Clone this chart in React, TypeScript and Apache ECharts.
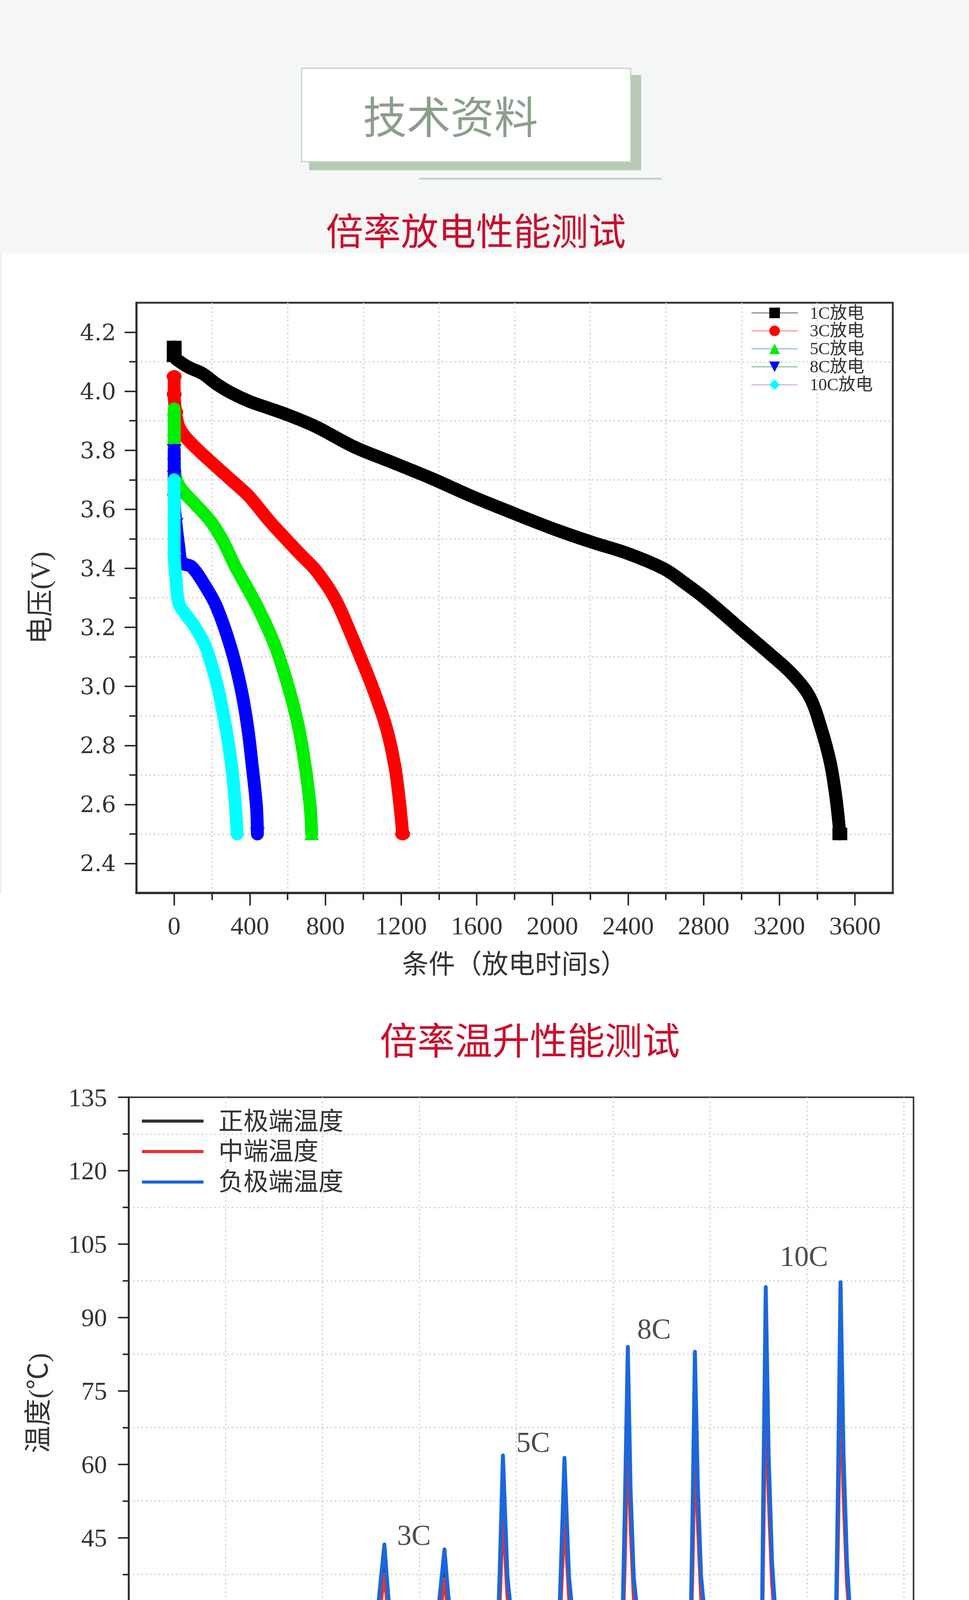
import React, { useEffect, useRef } from "react";
import * as echarts from "echarts";

// ---------- texts ----------
const headerTitle = "技术资料";
const sectionTitles = ["倍率放电性能测试", "倍率温升性能测试", "低温性能测试"];

// ---------- chart 1 : rate discharge ----------
const dischargeNames = ["1C放电", "3C放电", "5C放电", "8C放电", "10C放电"];
const curve1C: [number, number][] = [
  [0, 4.15], [0, 4.12], [30, 4.1], [80, 4.08], [150, 4.06], [223, 4.025], [300, 3.995], [400, 3.965],
  [490, 3.945], [600, 3.92], [750, 3.88], [950, 3.812], [1150, 3.76], [1360, 3.705], [1570, 3.645],
  [1781, 3.59], [2000, 3.535], [2202, 3.49], [2400, 3.45], [2591, 3.398], [2700, 3.35], [2800, 3.302],
  [2900, 3.248], [3000, 3.192], [3150, 3.11], [3270, 3.04], [3360, 2.965], [3420, 2.86], [3470, 2.74],
  [3500, 2.62], [3520, 2.5],
];
const curve3C: [number, number][] = [
  [0, 4.05], [0, 3.99], [8, 3.93], [25, 3.88], [60, 3.845], [120, 3.805], [196, 3.76], [300, 3.7],
  [394, 3.645], [504, 3.56], [590, 3.5], [671, 3.445], [740, 3.4], [788, 3.36], [830, 3.32],
  [872, 3.27], [962, 3.135], [1047, 3.0], [1120, 2.864], [1167, 2.729], [1194, 2.594], [1208, 2.5],
];
const curve5C: [number, number][] = [
  [0, 3.94], [0, 3.87], [0, 3.79], [5, 3.72], [30, 3.675], [100, 3.625], [192, 3.56], [260, 3.49],
  [324, 3.405], [440, 3.27], [535, 3.135], [603, 3.0], [657, 2.864], [693, 2.729], [719, 2.594], [727, 2.5],
];
const curve8C: [number, number][] = [
  [0, 3.8], [0, 3.71], [0, 3.63], [10, 3.55], [25, 3.47], [40, 3.42], [93, 3.405], [166, 3.338],
  [224, 3.27], [298, 3.135], [351, 3.0], [388, 2.864], [413, 2.729], [435, 2.594], [440, 2.5],
];
const curve10C: [number, number][] = [
  [0, 3.7], [0, 3.57], [0, 3.45], [10, 3.36], [25, 3.28], [61, 3.244], [108, 3.203], [166, 3.135],
  [229, 3.0], [272, 2.864], [304, 2.729], [324, 2.594], [333, 2.5],
];
const dischargeCurves = [curve1C, curve3C, curve5C, curve8C, curve10C];
const dischargeColors = ["#000000", "#ff0000", "#00ee00", "#0000ff", "#00ffff"];
const dischargeLegendLineColors = ["#8c8c8c", "#ff9a9a", "#9fb8ec", "#98c49a", "#d6b2ec"];
const dischargeSymbols = ["rect", "circle", "triangle", "triangle", "diamond"];
const dischargeSymbolRotate = [0, 0, 0, 180, 0];
const dischargeXTicks = [0, 400, 800, 1200, 1600, 2000, 2400, 2800, 3200, 3600];
const dischargeXMinor = [200, 600, 1000, 1400, 1800, 2200, 2600, 3000, 3400];
const dischargeYTicks = [2.4, 2.6, 2.8, 3.0, 3.2, 3.4, 3.6, 3.8, 4.0, 4.2];
const dischargeYMinor = [2.5, 2.7, 2.9, 3.1, 3.3, 3.5, 3.7, 3.9, 4.1];

// ---------- chart 2 : rate temperature rise ----------
const tempNames = ["正极端温度", "中端温度", "负极端温度"];
const tempColors = ["#333333", "#e8312f", "#1b67dc"];
const tempPositive: [number, number][] = [
  [0, 19.4], [700, 20.8], [1400, 22.0], [2000, 22.7], [2600, 23.2], [3000, 23.0], [3500, 21.3], [4000, 19.7],
  [5000, 20.0], [6200, 20.3], [7000, 20.4], [7400, 25.0], [7900, 22.5], [8500, 22.1], [9100, 22.3], [9700, 22.6],
  [10100, 21.9], [10800, 22.7], [11300, 21.4], [12000, 18.8], [13500, 19.6], [14800, 20.9], [15500, 24.3],
  [16100, 21.9], [17400, 21.7], [18700, 22.0], [19300, 19.8], [20000, 17.3], [20700, 28.5], [21400, 40.0],
  [21800, 31.5], [22200, 26.2], [22700, 23.1], [23300, 21.9], [24400, 21.5], [25100, 21.9], [25700, 19.3],
  [26300, 17.0], [26900, 27.5], [27600, 39.5], [28000, 31.5], [28400, 26.2], [28900, 23.1], [29500, 21.9],
  [30800, 21.5], [31500, 21.7], [32200, 18.9], [32940, 16.4], [33300, 35.0], [33630, 56.0], [34100, 35.0],
  [34620, 25.8], [35000, 23.0], [35400, 21.6], [37000, 21.1], [37460, 21.6], [38300, 18.4], [39250, 15.9],
  [39600, 35.0], [39980, 55.5], [40450, 35.0], [40950, 25.8], [41350, 23.0], [41750, 21.6], [43300, 20.9],
  [43900, 21.3], [44900, 18.1], [45840, 15.5], [46200, 45.0], [46520, 76.0], [46800, 51.0], [47130, 35.0],
  [47600, 26.5], [48100, 22.8], [48790, 20.9], [50300, 20.7], [50850, 21.1], [51900, 17.9], [52910, 15.4],
  [53200, 45.0], [53440, 75.0], [53750, 51.0], [54080, 35.0], [54550, 26.5], [55000, 22.8], [55500, 20.7],
  [57000, 20.3], [57690, 20.8], [59000, 17.4], [60300, 14.9], [60500, 50.0], [60750, 87.0], [61050, 58.0],
  [61400, 38.0], [61800, 27.0], [62300, 22.5], [62800, 20.4], [64100, 19.9], [64720, 20.4], [66300, 17.4],
  [67900, 15.1], [68200, 50.0], [68470, 88.0], [68780, 58.0], [69130, 38.0], [69500, 27.0], [70000, 22.5],
  [70400, 20.8], [71800, 20.4], [73400, 21.2], [74600, 17.9], [76000, 17.2],
];
const tempMiddle: [number, number][] = [
  [0, 19.3], [700, 20.6], [1400, 21.8], [2000, 22.5], [2600, 22.9], [3000, 22.8], [3500, 21.1], [4000, 19.6],
  [5000, 19.8], [6200, 20.0], [7000, 20.1], [7400, 24.2], [7900, 22.2], [8500, 21.8], [9100, 22.0], [9700, 22.3],
  [10100, 21.6], [10800, 22.4], [11300, 21.2], [12000, 18.7], [13500, 19.4], [14800, 20.6], [15500, 23.6],
  [16100, 21.6], [17400, 21.4], [18700, 21.7], [19300, 19.7], [20000, 17.3], [20700, 27.0], [21400, 37.5],
  [21800, 30.0], [22200, 25.5], [22700, 22.7], [23300, 21.6], [24400, 21.2], [25100, 21.6], [25700, 19.2],
  [26300, 17.0], [26900, 26.0], [27600, 36.5], [28000, 30.0], [28400, 25.5], [28900, 22.7], [29500, 21.6],
  [30800, 21.2], [31500, 21.4], [32200, 18.8], [32940, 16.4], [33300, 32.0], [33630, 51.0], [34100, 33.0],
  [34620, 24.8], [35000, 22.6], [35400, 21.3], [37000, 20.8], [37460, 21.3], [38300, 18.3], [39250, 15.9],
  [39600, 32.0], [39980, 50.0], [40450, 33.0], [40950, 24.8], [41350, 22.6], [41750, 21.3], [43300, 20.6],
  [43900, 21.0], [44900, 18.0], [45840, 15.5], [46200, 40.0], [46520, 68.0], [46800, 48.0], [47130, 33.0],
  [47600, 25.5], [48100, 22.4], [48790, 20.6], [50300, 20.4], [50850, 20.8], [51900, 17.8], [52910, 15.4],
  [53200, 40.0], [53440, 67.0], [53750, 48.0], [54080, 33.0], [54550, 25.5], [55000, 22.4], [55500, 20.4],
  [57000, 20.0], [57690, 20.5], [59000, 17.3], [60300, 14.9], [60500, 45.0], [60750, 78.0], [61050, 54.0],
  [61400, 36.0], [61800, 26.0], [62300, 22.0], [62800, 20.1], [64100, 19.6], [64720, 20.1], [66300, 17.3],
  [67900, 15.1], [68200, 45.0], [68470, 79.0], [68780, 54.0], [69130, 36.0], [69500, 26.0], [70000, 22.0],
  [70400, 20.5], [71800, 20.1], [73400, 20.9], [74600, 17.8], [76000, 17.1],
];
const tempNegative: [number, number][] = [
  [0, 19.5], [700, 21.0], [1400, 22.3], [2000, 23.0], [2600, 23.5], [3000, 23.3], [3500, 21.5], [4000, 19.9],
  [5000, 20.2], [6200, 20.5], [7000, 20.6], [7400, 26.0], [7900, 22.9], [8500, 22.4], [9100, 22.6], [9700, 22.9],
  [10100, 22.2], [10800, 23.0], [11300, 21.7], [12000, 18.9], [13500, 19.8], [14800, 21.1], [15500, 25.1],
  [16100, 22.2], [17400, 22.0], [18700, 22.3], [19300, 20.0], [20000, 17.4], [20700, 30.0], [21400, 43.6],
  [21800, 33.0], [22200, 27.0], [22700, 23.5], [23300, 22.2], [24400, 21.8], [25100, 22.2], [25700, 19.5],
  [26300, 17.1], [26900, 29.0], [27600, 42.6], [28000, 33.0], [28400, 27.0], [28900, 23.5], [29500, 22.2],
  [30800, 21.8], [31500, 22.0], [32200, 19.0], [32940, 16.5], [33300, 38.0], [33630, 61.8], [34100, 37.0],
  [34620, 26.8], [35000, 23.5], [35400, 22.0], [37000, 21.4], [37460, 21.9], [38300, 18.5], [39250, 16.0],
  [39600, 38.0], [39980, 61.3], [40450, 37.0], [40950, 26.8], [41350, 23.5], [41750, 22.0], [43300, 21.2],
  [43900, 21.6], [44900, 18.2], [45840, 15.6], [46200, 50.0], [46520, 84.0], [46800, 55.0], [47130, 37.0],
  [47600, 27.5], [48100, 23.3], [48790, 21.2], [50300, 21.0], [50850, 21.4], [51900, 18.0], [52910, 15.5],
  [53200, 50.0], [53440, 83.0], [53750, 55.0], [54080, 37.0], [54550, 27.5], [55000, 23.3], [55500, 21.0],
  [57000, 20.7], [57690, 21.2], [59000, 17.5], [60300, 15.0], [60500, 55.0], [60750, 96.2], [61050, 62.0],
  [61400, 40.0], [61800, 28.0], [62300, 23.0], [62800, 20.8], [64100, 20.3], [64720, 20.8], [66300, 17.5],
  [67900, 15.2], [68200, 55.0], [68470, 97.2], [68780, 62.0], [69130, 40.0], [69500, 28.0], [70000, 23.0],
  [70400, 21.2], [71800, 20.8], [73400, 21.6], [74600, 18.0], [76000, 17.3],
];
const tempSeries = [tempPositive, tempMiddle, tempNegative];
const rateLabelNames = ["1C", "3C", "5C", "8C", "10C"];
const rateLabelTimes = [6000, 24450, 36750, 49230, 64700];
const rateLabelTemps = [30.3, 45.5, 64.5, 87.7, 102.5];
const tempXTicks = [0, 10000, 20000, 30000, 40000, 50000, 60000, 70000];
const tempXMinor = [5000, 15000, 25000, 35000, 45000, 55000, 65000, 75000];
const tempYTicks = [15, 30, 45, 60, 75, 90, 105, 120, 135];
const tempYMinor = [22.5, 37.5, 52.5, 67.5, 82.5, 97.5, 112.5, 127.5];

// ---------- chart 3 : low temperature (only its top edge is on the page) ----------
const lowTempNames = ["25℃"];
const lowTempYTicks = [4.4];
const lowTempXGrid = [200, 400, 600, 800, 1000, 1200, 1400, 1600, 1800, 2000];

const INK = "#2e2e2e";
const SERIF = "Liberation Serif, Noto Sans CJK SC";
const CJK = "Noto Sans CJK SC";

const tickLine = { color: INK, width: 4 };
const dotted = { show: true, lineStyle: { color: "#cfcfcf", width: 3, type: [4, 7] as any } };
const numFmt = (v: number) => String(v);

function mainX(grid: number, min: number, max: number, ticks: number[], len: number, margin: number, name: string, gap: number) {
  return {
    gridIndex: grid, type: "value", min, max, position: "bottom",
    axisLine: { show: true, onZero: false, lineStyle: { color: INK, width: 6 } },
    axisTick: { show: true, customValues: ticks, length: len, lineStyle: tickLine },
    axisLabel: { show: true, customValues: ticks, margin, formatter: numFmt, fontFamily: SERIF, fontSize: 66, color: "#333" },
    splitLine: { show: false },
    name, nameLocation: "middle", nameGap: gap,
    nameTextStyle: { fontFamily: CJK, fontSize: 68, color: "#333" },
  };
}
function minorX(grid: number, min: number, max: number, ticks: number[], len: number, showTick = true) {
  return {
    gridIndex: grid, type: "value", min, max, position: "bottom",
    axisLine: { show: false, onZero: false },
    axisTick: { show: showTick, customValues: ticks, length: len, lineStyle: tickLine },
    axisLabel: { show: false },
    splitLine: dotted,
  };
}
function mainY(grid: number, min: number, max: number, ticks: number[], len: number, margin: number, fmt: any, font: string, fsize: number, name: string, gap: number) {
  return {
    gridIndex: grid, type: "value", min, max, position: "left",
    axisLine: { show: true, onZero: false, lineStyle: { color: INK, width: 5 } },
    axisTick: { show: true, customValues: ticks, length: len, lineStyle: tickLine },
    axisLabel: { show: true, customValues: ticks, margin, formatter: fmt, fontFamily: font, fontSize: fsize, color: "#333" },
    splitLine: { show: false },
    name, nameLocation: "middle", nameGap: gap, nameRotate: 90,
    nameTextStyle: { fontFamily: SERIF, fontSize: 70, color: "#333" },
  };
}
function minorY(grid: number, min: number, max: number, ticks: number[], len: number) {
  return {
    gridIndex: grid, type: "value", min, max, position: "left",
    axisLine: { show: false, onZero: false },
    axisTick: { show: true, customValues: ticks, length: len, lineStyle: tickLine },
    axisLabel: { show: false },
    splitLine: dotted,
  };
}

function buildOption() {
  const dischargeSeries = dischargeCurves.map((d, i) => ({
    type: "line", name: dischargeNames[i], xAxisIndex: 0, yAxisIndex: 0,
    // markers are shown where the original stacks them: the vertical start and the cut-off point
    data: d.map((p, k) => ({
      value: p,
      symbol: p[0] <= 10 || k === d.length - 1 ? dischargeSymbols[i] : "none",
    })),
    smooth: 0.35,
    symbol: dischargeSymbols[i], symbolRotate: dischargeSymbolRotate[i], symbolSize: [38, 32],
    showSymbol: true, showAllSymbol: true, silent: true, z: 2 + i,
    itemStyle: { color: dischargeColors[i] },
    lineStyle: { color: dischargeColors[i], width: 33, cap: "round", join: "round" },
  }));
  const tempLines = tempSeries.map((d, i) => ({
    type: "line", name: tempNames[i], xAxisIndex: 2, yAxisIndex: 2, data: d,
    showSymbol: false, symbol: "none", silent: true, z: 2 + i,
    itemStyle: { color: tempColors[i] },
    lineStyle: { color: tempColors[i], width: 10, join: "round" },
  }));
  const rateLabels = {
    type: "scatter", name: "rateLabels", xAxisIndex: 2, yAxisIndex: 2, symbolSize: 0, silent: true, z: 10,
    data: rateLabelNames.map((n, i) => ({ name: n, value: [rateLabelTimes[i], rateLabelTemps[i]] })),
    label: { show: true, position: "inside", formatter: (p: any) => p.name, fontFamily: "Liberation Serif", fontSize: 74, color: "#222" },
  };
  const lowTemp = {
    type: "line", name: lowTempNames[0], xAxisIndex: 4, yAxisIndex: 4, data: [] as number[][],
    symbol: "rect", symbolSize: 30, itemStyle: { color: "#000" }, lineStyle: { color: "#000", width: 6 },
  };

  const graphic: any[] = [
    { type: "rect", silent: true, z: -10, shape: { x: 0, y: 0, width: 2480, height: 648 }, style: { fill: "#f5f7f6" } },
    { type: "rect", silent: true, z: -10, shape: { x: 0, y: 648, width: 5, height: 1640 }, style: { fill: "#eef1ef" } },
    { type: "rect", silent: true, shape: { x: 791, y: 192, width: 850, height: 244 }, style: { fill: "#b7cab6" } },
    { type: "rect", silent: true, shape: { x: 772, y: 175, width: 842, height: 239 }, style: { fill: "#ffffff", stroke: "#c6d4c5", lineWidth: 3 } },
    { type: "text", silent: true, x: 929, y: 293, style: { text: headerTitle, fontFamily: CJK, fontSize: 112, fill: "#8b9f8a", align: "left", verticalAlign: "middle" } },
    { type: "rect", silent: true, shape: { x: 1073, y: 455, width: 620, height: 5 }, style: { fill: "#c4d3c3" } },
    { type: "text", silent: true, x: 1218, y: 585, style: { text: sectionTitles[0], fontFamily: CJK, fontSize: 96, fill: "#cc0c2c", align: "center", verticalAlign: "middle" } },
    { type: "text", silent: true, x: 1356, y: 2657, style: { text: sectionTitles[1], fontFamily: CJK, fontSize: 96, fill: "#cc0c2c", align: "center", verticalAlign: "middle" } },
    { type: "text", silent: true, x: 1179, y: 4720, style: { text: sectionTitles[2], fontFamily: CJK, fontSize: 96, fill: "#cc0c2c", align: "center", verticalAlign: "middle" } },
  ];

  return {
    animation: false,
    backgroundColor: "#ffffff",
    graphic,
    grid: [
      { left: 349, top: 775, width: 1936, height: 1511, show: true, borderColor: "#383838", borderWidth: 5 },
      { left: 329, top: 2809, width: 2009, height: 1566, show: true, borderColor: "#383838", borderWidth: 4 },
      { left: 380, top: 4899, width: 1978, height: 1500, show: true, borderColor: "#383838", borderWidth: 5 },
    ],
    xAxis: [
      mainX(0, -200, 3800, dischargeXTicks, 32, 50, "条件（放电时间s）", 142),
      minorX(0, -200, 3800, dischargeXMinor, 18),
      mainX(1, -5000, 76000, tempXTicks, 31, 56, "时间（s）", 154),
      minorX(1, -5000, 76000, tempXMinor, 15),
      minorX(2, 0, 2080, lowTempXGrid, 0, false),
    ],
    yAxis: [
      mainY(0, 2.3, 4.3, dischargeYTicks, 30, 52, (v: number) => v.toFixed(1), "DejaVu Serif", 58, "电压(V)", 211),
      minorY(0, 2.3, 4.3, dischargeYMinor, 18),
      mainY(1, 10, 135, tempYTicks, 27, 55, numFmt, "Liberation Serif", 66, "温度(℃)", 196),
      minorY(1, 10, 135, tempYMinor, 15),
      mainY(2, 2.4, 4.4, lowTempYTicks, 29, 56, (v: number) => v.toFixed(1), "DejaVu Serif", 58, "", 0),
    ],
    legend: [
      {
        orient: "vertical", left: 1918, top: 774, itemWidth: 116, itemHeight: 34, itemGap: 2,
        selectedMode: false,
        textStyle: { fontFamily: SERIF, fontSize: 44, color: "#333", padding: [0, 0, 0, 27] },
        data: dischargeNames.map((n, i) => ({
          name: n,
          itemStyle: { color: dischargeColors[i] },
          lineStyle: { color: dischargeLegendLineColors[i], width: 3 },
        })),
      },
      {
        orient: "vertical", left: 358, top: 2833, itemWidth: 158, itemHeight: 8, itemGap: 14, icon: "roundRect",
        selectedMode: false,
        textStyle: { fontFamily: SERIF, fontSize: 64, color: "#333", padding: [0, 0, 0, 33] },
        data: tempNames,
      },
      {
        orient: "vertical", left: 2022, top: 4911, itemWidth: 122, itemHeight: 40,
        selectedMode: false,
        textStyle: { fontFamily: SERIF, fontSize: 54, color: "#333", padding: [0, 0, 0, 31] },
        data: [{ name: lowTempNames[0], lineStyle: { color: "#333", width: 3 } }],
      },
    ],
    series: [...dischargeSeries, ...tempLines, rateLabels, lowTemp],
  };
}

export default function App() {
  const ref = useRef<HTMLDivElement>(null);
  useEffect(() => {
    document.body.style.margin = "0";
    if (!ref.current) return;
    const chart = echarts.init(ref.current, undefined, { renderer: "svg" });
    chart.setOption(buildOption() as any);
    return () => chart.dispose();
  }, []);
  return <div ref={ref} style={{ width: 2480, height: 4960, background: "#fff" }} />;
}
